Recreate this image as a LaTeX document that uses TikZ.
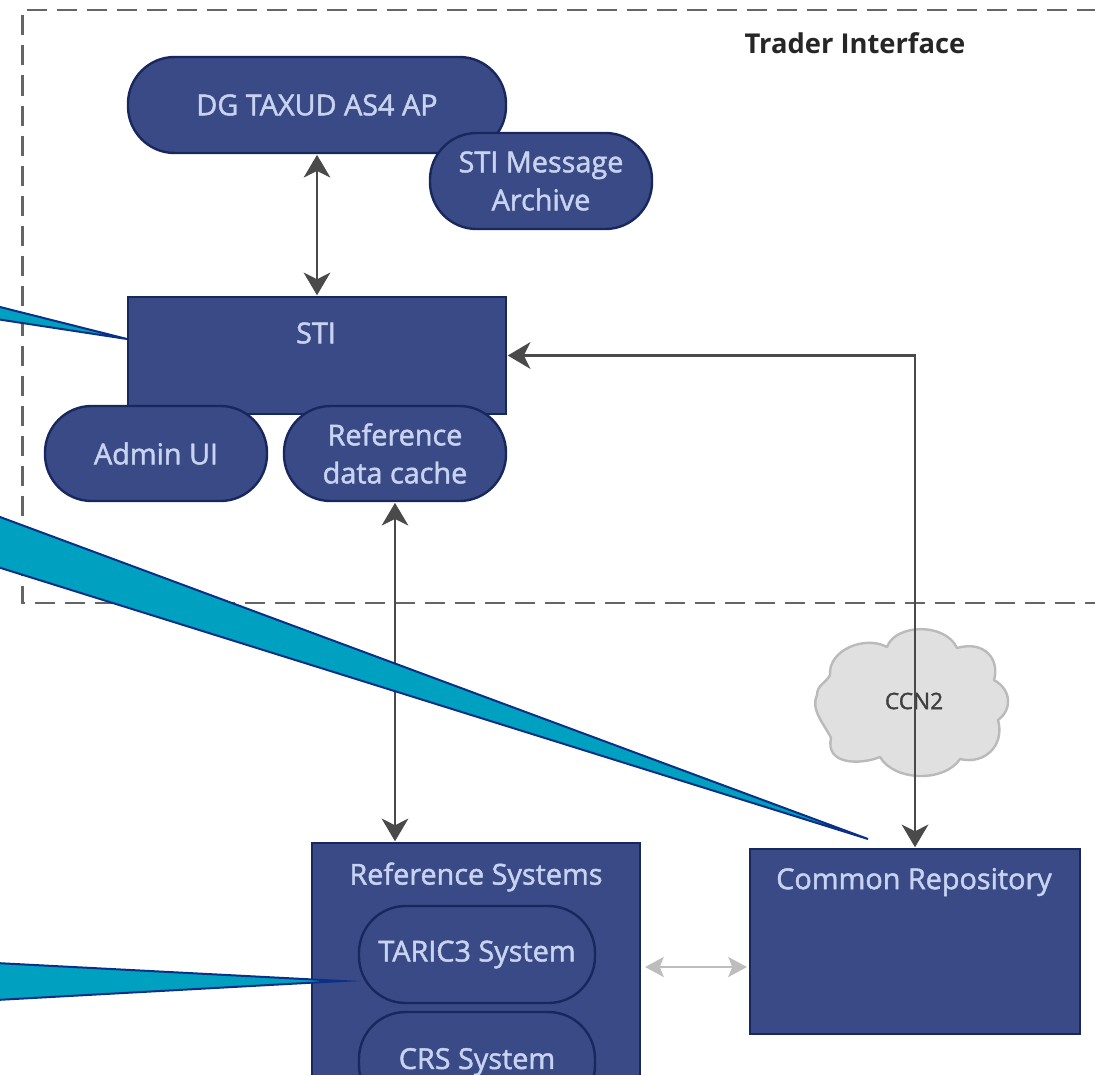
\documentclass[tikz,border=0pt]{standalone}
\usepackage{fontspec}
\setmainfont{Open Sans}
\newfontfamily\boxfont[FakeBold=1.6]{Open Sans}
\usetikzlibrary{arrows.meta,calc}
\definecolor{boxfill}{HTML}{3A4A86}
\definecolor{boxline}{HTML}{18285E}
\definecolor{boxtext}{HTML}{C8D3F0}
\definecolor{wedgefill}{HTML}{00A0C0}
\definecolor{wedgeline}{HTML}{0A2F86}
\definecolor{linkdark}{HTML}{4A4A4A}
\definecolor{linklight}{HTML}{BDBDBD}
\tikzset{
  px/.style={x=0.75pt,y=-0.75pt},
  pill/.style={draw=boxline,line width=1.8pt,fill=boxfill,rounded corners=35pt,inner sep=0pt,text=boxtext,font=\boxfont\fontsize{21.6}{28.5}\selectfont,align=center},
  block/.style={draw=boxline,line width=1.6pt,fill=boxfill,inner sep=0pt},
  boxlabel/.style={text=boxtext,font=\boxfont\fontsize{21.6}{26}\selectfont,inner sep=0pt},
  link/.style={draw=linkdark,line width=1.8pt,{Stealth[length=17pt,width=20pt,inset=5pt]}-{Stealth[length=17pt,width=20pt,inset=5pt]},shorten <=0.5pt,shorten >=0.5pt},
  softlink/.style={draw=linklight,line width=1.6pt,{Stealth[length=14pt,width=15pt,inset=3pt]}-{Stealth[length=14pt,width=15pt,inset=3pt]}},
  wedge/.style={draw=wedgeline,line width=1.5pt,fill=wedgefill,line join=miter,miter limit=20},
  zone/.style={draw=linkdark!85,line width=1.8pt,dash pattern=on 15pt off 7.5pt},
  cloudshape/.style={draw=black!27,line width=1.8pt,fill=black!12,line join=round},
}
\newcommand{\pillat}[6]{\node[pill,minimum width=#3*0.75pt,minimum height=#4*0.75pt] (#5) at (#1,#2) {#6};}
\begin{document}
\begin{tikzpicture}[px]
\useasboundingbox (0,0) rectangle (1095,1074);
\clip (0,0) rectangle (1095,1074);
% zone
\coordinate (zoneTR) at (1097,10);
\coordinate (zoneTL) at (22.5,10);
\coordinate (zoneBL) at (22.5,603);
\coordinate (zoneBR) at (1097,603);
\draw[zone] (zoneTR) -- (zoneTL) -- (zoneBL) -- (zoneBR);
\node[inner sep=0pt,font=\fontsize{20.5}{24}\selectfont\bfseries,text=black!85] (trader) at (855,43) {Trader Interface};
% cloud
\path[cloudshape] (817,695)
  .. controls (817,685) and (826,683) .. (830,675)
  .. controls (828,650) and (865,635) .. (887,647)
  .. controls (895,624) and (945,622) .. (957,648)
  .. controls (985,640) and (1000,660) .. (994,680)
  .. controls (1012,690) and (1012,710) .. (998,720)
  .. controls (1005,745) and (985,765) .. (960,759)
  .. controls (945,782) and (895,782) .. (880,757)
  .. controls (860,765) and (825,765) .. (831,738)
  .. controls (825,725) and (810,710) .. (817,695) -- cycle;
\node[inner sep=0pt,text=black!75,font=\boxfont\fontsize{17}{20}\selectfont] (ccntext) at (914,701) {CCN2};
% boxes
\node[block,minimum width=378*0.75pt,minimum height=117*0.75pt] (sti) at (317,355.5) {};
\node[boxlabel] (stitext) at (316,333) {STI};
\pillat{317}{105}{378}{96}{dg}{DG TAXUD AS4 AP}
\pillat{541}{181}{222}{96}{archive}{STI Message\\Archive}
\pillat{156}{453.5}{222}{95}{admin}{Admin UI}
\pillat{395}{453.5}{222}{95}{cache}{Reference\\data cache}
\node[block,minimum width=328*0.75pt,minimum height=260*0.75pt] (refsys) at (476,973) {};
\node[boxlabel] (refsystext) at (476,877) {Reference Systems};
\pillat{477}{954.5}{236}{97}{taric}{TARIC3 System}
\pillat{477}{1062}{236}{100}{crs}{CRS System}
\node[block,minimum width=330*0.75pt,minimum height=185*0.75pt] (common) at (915,941.5) {};
\node[boxlabel] (commontext) at (914,882) {Common Repository};
% connectors
\coordinate (softy) at (0,967);
\draw[link] (dg.south) -- (sti.north);
\draw[link] (sti.east) -| (common.north);
\draw[link] (cache.south) -- (cache.south |- refsys.north);
\draw[softlink] ($(refsys.east |- softy)+(4,0)$) -- ($(common.west |- softy)+(-2,0)$);
% callouts
\coordinate (w1a) at (-4,306);
\coordinate (w1b) at (-4,319);
\coordinate (w1t) at (127,339);
\coordinate (w2a) at (-4,515.5);
\coordinate (w2b) at (-4,566.5);
\coordinate (w2t) at (868,839);
\coordinate (w3a) at (-4,963);
\coordinate (w3b) at (-4,1000);
\coordinate (w3t) at (342,981);
\draw[wedge] (w1a) -- (w1t) -- (w1b) -- cycle;
\draw[wedge] (w2a) -- (w2t) -- (w2b) -- cycle;
\draw[wedge] (w3a) -- (w3t) -- (w3b) -- cycle;
\end{tikzpicture}
\end{document}
